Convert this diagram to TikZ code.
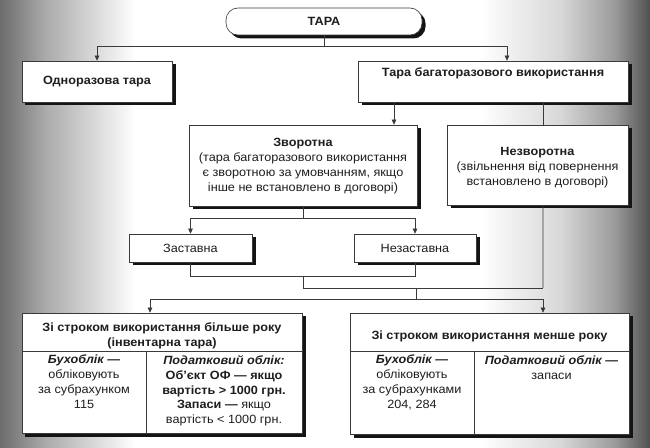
\documentclass[tikz,border=0pt]{standalone}
\usepackage{fontspec}
\setmainfont{Liberation Sans}[FakeStretch=1.06]
\usetikzlibrary{arrows.meta,shadows}
\definecolor{lineg}{HTML}{3A3A3A}
\definecolor{txtc}{HTML}{1E1E1E}
\tikzset{
  box/.style={draw=lineg, line width=0.6bp, fill=white, inner sep=0pt,
    general shadow={fill=black!92, shadow xshift=3.5bp, shadow yshift=-3.5bp}},
  conn/.style={draw=lineg, line width=0.6bp},
  arr/.style={conn, -{Triangle[length=5bp,width=4.5bp]}},
  txt/.style={font=\fontsize{12}{15}\selectfont, align=center, text=txtc, inner sep=0pt},
  btxt/.style={txt, font=\fontsize{12}{15}\selectfont\bfseries},
}
\begin{document}
\begin{tikzpicture}[x=1bp,y=-1bp]
\useasboundingbox (0,0) rectangle (650,448);
% background
\fill[white] (0,0) rectangle (650,448);
\shade[left color={rgb,255:red,108;green,108;blue,108}, right color={rgb,255:red,170;green,170;blue,170}] (0,0) rectangle (45,448);
\shade[left color={rgb,255:red,170;green,170;blue,170}, right color=white] (45,0) rectangle (135,448);
\shade[left color=white, right color={rgb,255:red,216;green,216;blue,216}] (480,0) rectangle (560,448);
\shade[left color={rgb,255:red,216;green,216;blue,216}, right color={rgb,255:red,154;green,154;blue,154}] (560,0) rectangle (615,448);
\shade[left color={rgb,255:red,154;green,154;blue,154}, right color={rgb,255:red,80;green,80;blue,80}] (615,0) rectangle (650,448);

% boxes
\node[box, rounded corners=12bp, minimum width=196bp, minimum height=27bp] (T) at (324,21.5) {};
\node[btxt] (Tt) at (324,21.5) {ТАРА};
\node[box, minimum width=150bp, minimum height=41bp] (one) at (97,81.5) {};
\node[btxt] (onet) at (97,82) {Одноразова тара};
\node[box, minimum width=270bp, minimum height=41bp] (mb) at (493,81.5) {};
\node[btxt] (mbt) at (493,73.5) {Тара багаторазового використання};
\node[box, minimum width=228bp, minimum height=81bp] (zv) at (303,165.5) {};
\node[txt] (zvt) at (303,166) {\textbf{Зворотна}\\(тара багаторазового використання\\є зворотною за умовчанням, якщо\\інше не встановлено в договорі)};
\node[box, minimum width=181bp, minimum height=80bp] (nz) at (537.5,165) {};
\node[txt] (nzt) at (537.5,167.5) {\textbf{Незворотна}\\(звільнення від повернення\\встановлено в договорі)};
\node[box, minimum width=123bp, minimum height=28bp] (zs) at (190.5,248) {};
\node[txt] (zst) at (190.5,248.5) {Заставна};
\node[box, minimum width=122bp, minimum height=28bp] (nzs) at (415,248) {};
\node[txt] (nzst) at (415,248.5) {Незаставна};
\node[box, minimum width=280bp, minimum height=120bp] (L) at (162,373) {};
\node[box, minimum width=279bp, minimum height=121bp] (R) at (489.5,373.5) {};

% table rules
\draw[conn] (22,351) -- (302,351);
\draw[conn] (146,351) -- (146,433);
\draw[conn] (350,351) -- (629,351);
\draw[conn] (474,351) -- (474,434);

% table texts
\node[btxt] (Lh) at (162,336) {Зі строком використання більше року\\(інвентарна тара)};
\node[txt, anchor=north] (La) at (84,355) {\textbf{\textit{Бухоблік —}}\\обліковують\\за субрахунком\\115};
\node[txt, anchor=north] (Lb) at (224,355) {\textbf{\textit{Податковий облік:}}\\\textbf{Об’єкт ОФ — якщо}\\\textbf{вартість > 1000 грн.}\\\textbf{Запаси —} якщо\\вартість < 1000 грн.};
\node[btxt] (Rh) at (489.5,336) {Зі строком використання менше року};
\node[txt, anchor=north] (Ra) at (412,355) {\textbf{\textit{Бухоблік —}}\\обліковують\\за субрахунками\\204, 284};
\node[txt, anchor=north] (Rb) at (551.5,355) {\textbf{\textit{Податковий облік —}}\\запаси};

% connectors
\coordinate (h1) at (324,46);
\draw[arr] (T.south) -- (h1) -| (one.north);
\draw[arr] (h1) -| ([xshift=14bp]mb.north);
\draw[arr] ([xshift=-99bp]mb.south) -- ([xshift=-99bp]mb.south |- zv.north);
\coordinate (xr) at (543,288);
\draw[conn] ([xshift=50bp]mb.south) -- ([xshift=50bp]mb.south |- nz.north);
\draw[conn] ([xshift=5.5bp]nz.south) -- (xr);
\coordinate (h2) at (303,218);
\draw[arr] (zv.south) -- (h2) -| (zs.north);
\draw[arr] (h2) -| (nzs.north);
\coordinate (j1) at (303,276);
\coordinate (j2) at (303,288);
\coordinate (j3) at (416,288);
\coordinate (j4) at (416,299);
\draw[conn] (zs.south) -- (zs.south |- j1) -- (nzs.south |- j1) -- (nzs.south);
\draw[conn] (j1) -- (j2) -- (xr);
\draw[conn] (j3) -- (j4);
\draw[arr] (j4) -| ([xshift=-12bp]L.north);
\draw[arr] (j4) -| ([xshift=53.5bp]R.north);
\end{tikzpicture}
\end{document}
